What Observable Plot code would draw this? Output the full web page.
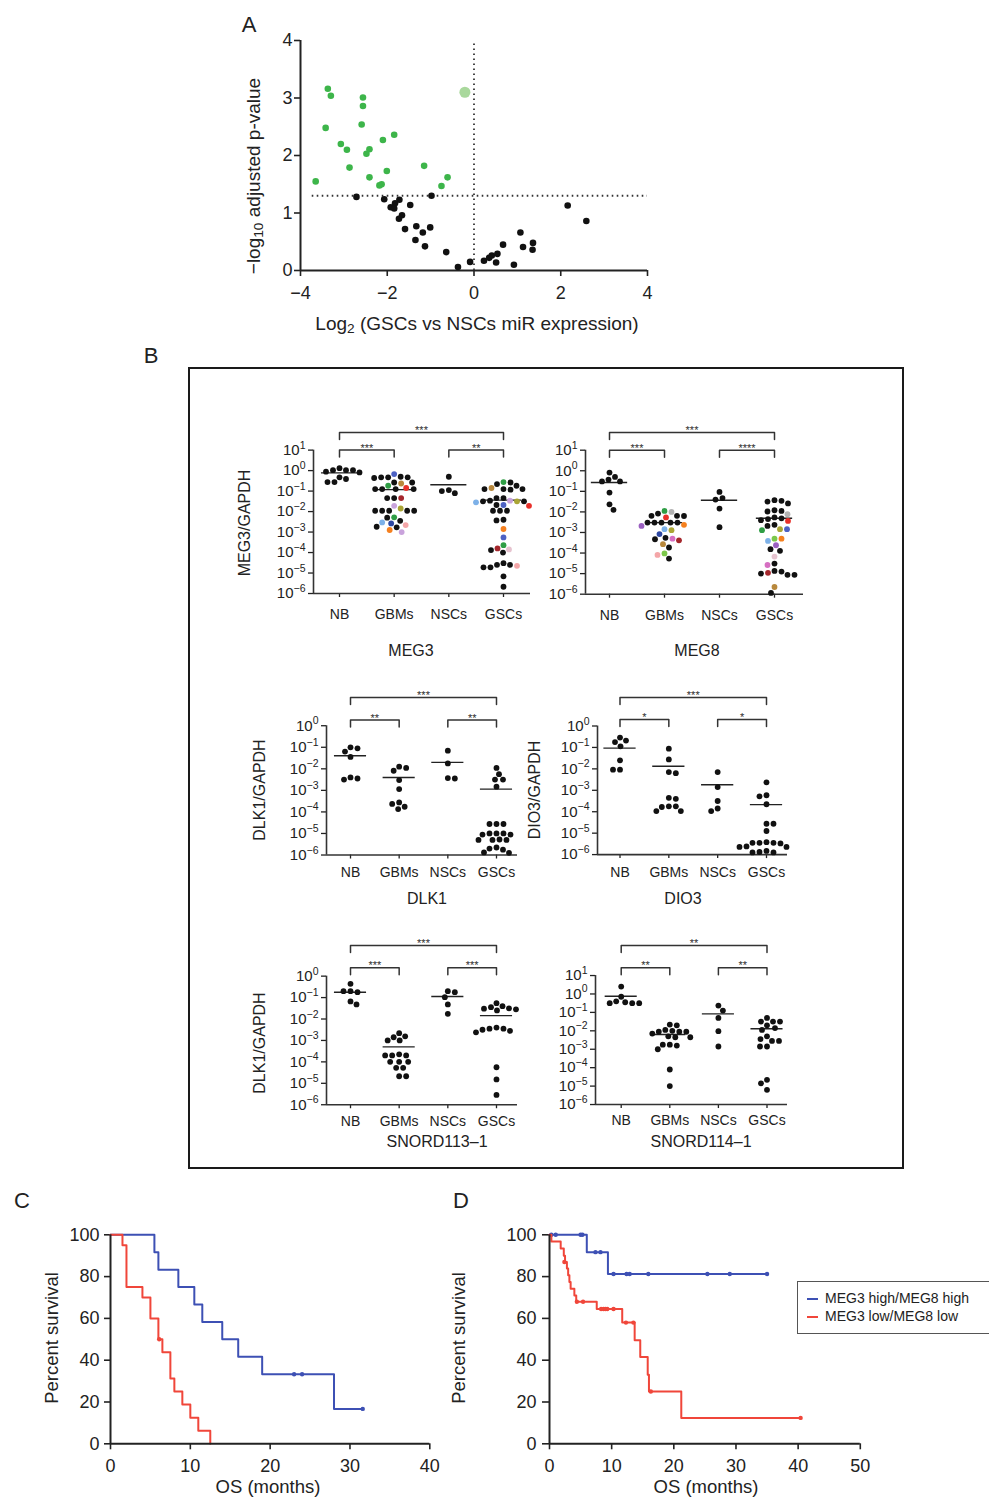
<!DOCTYPE html>
<html><head><meta charset="utf-8">
<script src="https://cdn.jsdelivr.net/npm/d3@7"></script>
<script src="https://cdn.jsdelivr.net/npm/@observablehq/plot@0.6"></script>
<style>
body{margin:0;background:#fff;font-family:"Liberation Sans",Arial,Helvetica,sans-serif;color:#222}
#fig{position:relative;width:989px;height:1499px;overflow:hidden;background:#fff}
.lbl{position:absolute;white-space:nowrap;transform:translate(-50%,-50%);line-height:1}
.rot{transform:translate(-50%,-50%) rotate(-90deg)}
sub{font-size:0.72em;vertical-align:-0.28em;line-height:0}
</style></head><body><div id="fig"></div>
<script>
// ---------------- Panel A data (log2 fold change, -log10 adj p) ----------------
const volcanoGreen = [[-3.37,3.16],[-3.30,3.04],[-2.56,3.01],[-2.56,2.86],[-2.59,2.54],[-3.42,2.48],[-1.84,2.36],[-2.10,2.27],[-3.07,2.20],[-2.93,2.10],[-2.41,2.11],[-2.48,2.03],[-2.87,1.79],[-1.15,1.82],[-2.01,1.73],[-3.65,1.55],[-2.41,1.62],[-2.13,1.50],[-2.18,1.48],[-0.61,1.62],[-0.75,1.47]];
const volcanoHighlight = [[-0.21,3.10]];
const volcanoBlack = [[-2.71,1.28],[-0.98,1.30],[-2.07,1.24],[-1.72,1.23],[-1.82,1.17],[-1.92,1.10],[-1.84,1.08],[-1.47,1.14],[-1.66,0.96],[-1.73,0.90],[-1.59,0.72],[-1.33,0.77],[-1.01,0.75],[-1.18,0.66],[-1.35,0.53],[-1.13,0.42],[-0.64,0.32],[-0.37,0.06],[-0.09,0.15],[0.23,0.17],[0.35,0.22],[0.41,0.26],[0.54,0.29],[0.51,0.14],[0.67,0.45],[0.92,0.10],[1.07,0.66],[1.13,0.41],[1.36,0.48],[1.35,0.36],[2.16,1.13],[2.59,0.86]];
const pThreshold = 1.3;
const volcanoXTicks = [-4,-2,0,2,4];
const volcanoYTicks = [0,1,2,3,4];

// ---------------- Panel B data (log10 expression / GAPDH) ----------------
const groups = ["NB","GBMs","NSCs","GSCs"];
const palette = {k:"#111", blue:"#4d62c4", navy:"#2e48a3", green:"#2f9e45", lime:"#7cc84a", brown:"#b8883c", red:"#e8302a", darkred:"#a4262c", lavender:"#c9a3dc", olive:"#aaa535", lightblue:"#7db1e8", pink:"#f4a6a8", orange:"#f5801f", lightpink:"#e6c3cf", gray:"#b3b3b3", purple:"#9a5fc0", magenta:"#d66fc2"};

const meg3NB = [0.02,0.02,-0.05,-0.09,0.02,0.12,-0.41,-0.56,-0.56,-0.33];
const meg3GBMs = [[-0.17,"blue"],-0.33,-0.33,-0.33,-0.30,-0.36,-0.58,[-0.63,"brown"],-0.58,[-0.74,"green"],-0.9,-0.9,-0.9,-0.9,[-0.85,"red"],-1.34,-1.34,[-1.34,"darkred"],[-1.72,"lavender"],[-1.85,"olive"],-1.96,-1.96,-1.96,-1.96,-1.96,[-2.28,"green"],-2.3,-2.45,[-2.53,"lightblue"],[-2.58,"navy"],[-2.66,"pink"],-2.77,-2.74,[-2.9,"orange"],[-3.0,"lavender"]];
const meg3NSCs = [-0.3,-0.95,-1.1,-1.0];
const meg3GSCs = [-0.58,-0.66,-0.74,[-0.56,"green"],[-0.85,"brown"],-0.9,-0.9,-0.93,-0.9,-1.34,-1.34,[-1.5,"olive"],[-1.47,"lavender"],-1.5,-1.47,-1.5,[-1.68,"blue"],[-1.55,"lightblue"],[-1.72,"red"],-1.68,-1.96,-1.96,-1.96,-2.4,-2.43,[-2.85,"orange"],[-3.26,"blue"],[-3.64,"green"],-3.88,[-3.85,"lightpink"],[-3.8,"darkred"],-4.0,-4.6,[-4.65,"pink"],-4.72,-4.72,-4.6,-4.52,-5.16,-5.67];
const meg3Med = [-0.11,-0.93,-0.69,-1.44];
const meg3Brackets = [[0,3,1.86,"***"],[0,1,1.0,"***"],[2,3,1.0,"**"]];

const meg8NB = [-0.09,-0.3,-0.52,-0.52,-0.43,-1.06,-1.63,-1.9];
const meg8GBMs = [[-2.0,"gray"],[-1.95,"green"],[-2.27,"red"],-2.19,-2.19,-2.08,-2.2,[-2.63,"orange"],-2.52,-2.52,-2.52,-2.52,-2.52,[-2.84,"lightblue"],[-2.89,"olive"],[-2.68,"purple"],[-3.08,"navy"],[-3.3,"magenta"],[-3.38,"darkred"],-3.33,-3.26,[-3.57,"brown"],-3.73,[-4.02,"lime"],[-4.09,"pink"],-4.27];
const meg8NSCs = [-1.03,-1.33,-1.4,-1.84,-2.74];
const meg8GSCs = [-1.43,-1.5,-1.59,-1.46,-1.92,[-2.11,"gray"],-1.95,-1.98,-2.27,[-2.44,"red"],-2.4,-2.31,-2.35,-2.63,[-2.84,"olive"],[-2.89,"green"],[-2.84,"blue"],-2.68,[-3.3,"lime"],[-3.41,"lightblue"],[-3.3,"orange"],-3.81,-3.89,[-3.62,"purple"],[-4.17,"lightpink"],-4.51,[-4.58,"magenta"],-4.9,-5.0,-5.06,-5.06,[-4.96,"darkred"],-4.87,[-5.65,"brown"],-5.94];
const meg8Med = [-0.57,-2.52,-1.43,-2.31];
const meg8Brackets = [[0,3,1.86,"***"],[0,1,1.0,"***"],[2,3,1.0,"****"]];

const dlk1NB = [-1.05,-1.0,-1.2,-1.45,-2.4,-2.5,-2.45];
const dlk1GBMs = [-1.96,-1.9,-2.09,-2.52,-2.94,-3.56,-3.63,-3.87,-3.76];
const dlk1NSCs = [-1.16,-1.75,-2.43,-2.45];
const dlk1GSCs = [-1.96,-2.25,-2.5,-2.5,-2.83,-4.56,-4.56,-4.56,-5.0,-5.05,-5.05,-5.0,-5.0,-5.3,-5.28,-5.3,-5.3,-5.7,-5.75,-5.65,-5.9,-5.88];
const dlk1Med = [-1.39,-2.40,-1.70,-2.94];
const dlk1Brackets = [[0,3,1.31,"***"],[0,1,0.26,"**"],[2,3,0.26,"**"]];

const dio3NB = [-0.54,-0.68,-0.75,-0.95,-1.6,-2.04,-2.04];
const dio3GBMs = [-1.06,-1.56,-2.2,-2.15,-3.35,-3.4,-3.75,-3.78,-3.75,-3.97,-3.97];
const dio3NSCs = [-2.15,-2.85,-3.5,-3.97,-3.85];
const dio3GSCs = [-2.63,-3.23,-3.28,-3.65,-4.56,-4.56,-4.9,-5.42,-5.45,-5.48,-5.45,-5.45,-5.64,-5.64,-5.62,-5.88,-5.9,-5.9,-5.83];
const dio3Med = [-1.03,-1.88,-2.74,-3.67];
const dio3Brackets = [[0,3,1.33,"***"],[0,1,0.30,"*"],[2,3,0.30,"*"]];

const s113NB = [-0.36,-0.7,-0.75,-0.7,-1.18,-1.32];
const s113GBMs = [-2.66,-2.81,-2.85,-3.0,-3.0,-3.65,-3.7,-3.7,-3.7,-4.0,-4.0,-4.0,-4.28,-4.28,-4.67,-4.67];
const s113NSCs = [-0.7,-0.75,-0.98,-1.32,-1.76];
const s113GSCs = [-1.26,-1.45,-1.4,-1.52,-1.55,-1.5,-1.6,-2.4,-2.45,-2.5,-2.55,-2.45,-2.62,-4.25,-4.82,-5.54];
const s113Med = [-0.75,-3.30,-0.95,-1.84];
const s113Brackets = [[0,3,1.43,"***"],[0,1,0.39,"***"],[2,3,0.39,"***"]];

const s114NB = [0.4,-0.15,-0.45,-0.5,-0.5,-0.5,-0.4];
const s114GBMs = [-1.66,-1.7,-1.95,-2.0,-2.05,-2.05,-2.05,-2.15,-2.3,-2.35,-2.35,-2.75,-2.8,-2.75,-3.0,-4.1,-5.0];
const s114NSCs = [-0.63,-0.9,-1.3,-2.02,-2.85];
const s114GSCs = [-1.3,-1.5,-1.5,-1.5,-1.7,-1.85,-1.95,-2.3,-2.45,-2.55,-2.55,-2.85,-2.85,-4.66,-4.85,-5.2];
const s114Med = [-0.12,-2.2,-1.08,-1.89];
const s114Brackets = [[0,3,2.63,"**"],[0,1,1.42,"**"],[2,3,1.42,"**"]];

// ---------------- Panels C, D data (Kaplan–Meier) ----------------
const kmNames = ["MEG3 high/MEG8 high","MEG3 low/MEG8 low"];
const kmColors = ["#3d50b4","#f0463a"];
const cHigh = [[0,100],[5.5,91.7],[6,83.3],[8.5,75],[10.5,66.7],[11.5,58.3],[14,50],[16,41.7],[19,33.3],[28,16.7],[31.6,16.7]];
const cHighCensor = [[23,33.3],[24,33.3],[31.6,16.7]];
const cLow = [[0,100],[1.5,95],[2,75],[4,70],[5,60],[6,50],[6.5,43.75],[7.5,31.25],[8,25],[9,18.75],[10,12.5],[11,6.25],[12.5,0]];
const cLowCensor = [[6.1,50]];
const dHigh = [[0,100],[6,91.7],[9.4,81.25],[35,81.25]];
const dHighCensor = [[0.3,100],[1,100],[5,100],[5.3,100],[7.4,91.7],[8.2,91.7],[10.3,81.25],[12.4,81.25],[12.9,81.25],[15.9,81.25],[25.4,81.25],[29,81.25],[35,81.25]];
const dLow = [[0,100],[0.3,96.8],[1.8,93.5],[2.3,90],[2.5,87],[2.8,83.9],[3.0,80.6],[3.2,77.4],[3.4,74.2],[4.0,71],[4.3,68],[7.6,64.5],[11.7,58],[13.7,49.5],[14.6,41.5],[15.8,33],[16.0,25],[21.2,12.4],[40.4,12.4]];
const dLowCensor = [[2.4,87],[4.4,68],[5.4,68],[8.3,64.5],[8.7,64.5],[9.0,64.5],[9.3,64.5],[10.3,64.5],[12.3,58],[13.5,58],[16.3,25],[40.4,12.4]];

// ---------------- helpers ----------------
const FONT = "'Liberation Sans', Arial, Helvetica, sans-serif";
const INK = "#222";
const fig = document.getElementById("fig");
const numFmt = d => (d < 0 ? "\u2212" : "") + Math.abs(d);
function place(svg, left, top) {
  svg.style.position = "absolute"; svg.style.left = left + "px"; svg.style.top = top + "px";
  svg.style.overflow = "visible"; svg.style.background = "transparent";
  fig.appendChild(svg);
}
function label(html, x, y, size, rot) {
  const d = document.createElement("div");
  d.className = "lbl" + (rot ? " rot" : "");
  d.style.left = x + "px"; d.style.top = y + "px"; d.style.fontSize = size + "px";
  d.innerHTML = html; fig.appendChild(d);
}
function superscripts(svg, size) {
  svg.querySelectorAll("text").forEach(t => {
    const m = /^10\^(.+)$/.exec(t.textContent);
    if (!m) return;
    t.textContent = "10";
    const ts = document.createElementNS("http://www.w3.org/2000/svg", "tspan");
    ts.setAttribute("dy", -size * 0.42);
    ts.setAttribute("font-size", size * 0.7);
    ts.textContent = m[1].replace("-", "\u2212");
    t.appendChild(ts);
  });
}
function swarm(vals, pxDec, r) {
  const d = 2 * r + 0.9;
  const idx = vals.map((_, i) => i).sort((a, b) => vals[b] - vals[a]);
  const placed = [], out = new Array(vals.length);
  idx.forEach((i, n) => {
    const y = -vals[i] * pxDec;
    for (let k = 0; k < 600; k++) {
      const mag = Math.ceil(k / 2) * 0.5;
      const x = (k % 2 === 1 ? 1 : -1) * mag * (n % 2 ? 1 : -1);
      if (placed.every(p => (p[0] - x) ** 2 + (p[1] - y) ** 2 >= d * d)) { placed.push([x, y]); out[i] = x; return; }
    }
    out[i] = 0;
  });
  return out;
}

// ---------------- Panel B frame ----------------
const box = document.createElement("div");
Object.assign(box.style, {position:"absolute", left:"188px", top:"367px", width:"716px", height:"802px", border:"2px solid #1a1a1a", boxSizing:"border-box"});
fig.appendChild(box);

// ---------------- Panel A ----------------
{
  const svg = Plot.plot({
    width: 430, height: 300, marginLeft: 70, marginRight: 13, marginTop: 20, marginBottom: 50,
    style: {fontFamily: FONT, color: INK, background: "transparent", overflow: "visible"},
    x: {domain: [-4, 4], axis: null}, y: {domain: [0, 4], axis: null},
    marks: [
      Plot.axisX({ticks: volcanoXTicks, tickFormat: numFmt, label: null, tickSize: 6, tickPadding: 10, fontSize: 18, strokeWidth: 1.6}),
      Plot.axisY({ticks: volcanoYTicks, tickFormat: numFmt, label: null, tickSize: 6, tickPadding: 2, fontSize: 18, strokeWidth: 1.6}),
      Plot.ruleX([-4], {stroke: INK, strokeWidth: 2}),
      Plot.ruleY([0], {stroke: INK, strokeWidth: 2}),
      Plot.ruleY([pThreshold], {x1: -3.73, x2: 4, stroke: "#333", strokeWidth: 1.8, strokeDasharray: "1.6,3.4"}),
      Plot.ruleX([0], {y1: 0, y2: 4, stroke: "#333", strokeWidth: 1.8, strokeDasharray: "1.6,3.4"}),
      Plot.dot(volcanoBlack, {x: d => d[0], y: d => d[1], r: 3.3, fill: "#111"}),
      Plot.dot(volcanoGreen, {x: d => d[0], y: d => d[1], r: 3.3, fill: "#3db54a"}),
      Plot.dot(volcanoHighlight, {x: d => d[0], y: d => d[1], r: 5.5, fill: "#a9d89c"})
    ]
  });
  place(svg, 230, 20);
}
label("A", 249, 25, 22);
label("\u2212log<sub>10</sub> adjusted p-value", 253, 176, 19, true);
label("Log<sub>2</sub> (GSCs vs NSCs miR expression)", 477, 323, 19);
label("B", 151, 356, 22);

// ---------------- Panel B strips ----------------
const strips = [
  {data:[meg3NB,meg3GBMs,meg3NSCs,meg3GSCs], med:meg3Med, br:meg3Brackets, topExp:1, axisX:313, axisRight:530, axisBottom:592.7, topY:449.3, cat0:339, cat3:503, pad:12},
  {data:[meg8NB,meg8GBMs,meg8NSCs,meg8GSCs], med:meg8Med, br:meg8Brackets, topExp:1, axisX:585, axisRight:803, axisBottom:593.3, topY:449.3, cat0:609, cat3:774, pad:12},
  {data:[dlk1NB,dlk1GBMs,dlk1NSCs,dlk1GSCs], med:dlk1Med, br:dlk1Brackets, topExp:0, axisX:326, axisRight:517, axisBottom:854.3, topY:725, cat0:350, cat3:496, pad:8},
  {data:[dio3NB,dio3GBMs,dio3NSCs,dio3GSCs], med:dio3Med, br:dio3Brackets, topExp:0, axisX:597, axisRight:787, axisBottom:854.3, topY:725.7, cat0:619.5, cat3:766, pad:8},
  {data:[s113NB,s113GBMs,s113NSCs,s113GSCs], med:s113Med, br:s113Brackets, topExp:0, axisX:326, axisRight:517, axisBottom:1104.3, topY:975.7, cat0:350, cat3:496, pad:7},
  {data:[s114NB,s114GBMs,s114NSCs,s114GSCs], med:s114Med, br:s114Brackets, topExp:1, axisX:595, axisRight:787, axisBottom:1104, topY:975, cat0:620.7, cat3:766.5, pad:7}
];
for (const p of strips) {
  const pxDec = (p.axisBottom - p.topY) / (p.topExp + 6);
  const maxBr = Math.max(...p.br.map(b => b[2]));
  const T = p.topY - (maxBr - p.topExp) * pxDec - 24;
  const ml = 64, mr = 10, mb = 36;
  const mt = p.topY - T;
  const H = p.axisBottom - T + mb;
  const W = p.axisRight - p.axisX + ml + mr;
  const sp = (p.cat3 - p.cat0) / 3;
  const xdom = [-(p.cat0 - p.axisX) / sp, 3 + (p.axisRight - p.cat3) / sp];
  const dots = [];
  p.data.forEach((arr, gi) => {
    const vals = arr.map(d => Array.isArray(d) ? d[0] : d);
    const offs = swarm(vals, pxDec, 2.9);
    arr.forEach((d, j) => dots.push({x: gi + offs[j] / sp, y: 10 ** vals[j], c: palette[Array.isArray(d) ? d[1] : "k"]}));
  });
  const drop = 7 / pxDec;
  const brLines = p.br.flatMap((b, k) => [[b[0], b[2] - drop], [b[0], b[2]], [b[1], b[2]], [b[1], b[2] - drop]].map(q => ({x: q[0], y: 10 ** q[1], k})));
  const svg = Plot.plot({
    width: W, height: H, marginLeft: ml, marginRight: mr, marginTop: mt, marginBottom: mb,
    style: {fontFamily: FONT, color: INK, background: "transparent", overflow: "visible"},
    x: {domain: xdom, axis: null},
    y: {type: "log", domain: [1e-6, 10 ** p.topExp], axis: null},
    color: {type: "identity"},
    marks: [
      Plot.axisY({ticks: d3.range(-6, p.topExp + 1).map(e => 10 ** e), tickFormat: d => "10^" + Math.round(Math.log10(d)), label: null, tickSize: 5, tickPadding: 3, fontSize: 15, strokeWidth: 1.3}),
      Plot.axisX({ticks: [0, 1, 2, 3], tickFormat: i => groups[i], label: null, tickSize: 4, tickPadding: p.pad, fontSize: 14, strokeWidth: 1.3}),
      Plot.ruleX([xdom[0]], {y1: 1e-6, y2: 10 ** p.topExp, stroke: "#333", strokeWidth: 1.6}),
      Plot.ruleY([1e-6], {x1: xdom[0], x2: xdom[1], stroke: "#333", strokeWidth: 1.6}),
      Plot.ruleY(p.med, {y: d => 10 ** d, x1: (d, i) => i - 0.33, x2: (d, i) => i + 0.33, stroke: "#222", strokeWidth: 1.4}),
      Plot.dot(dots, {x: "x", y: "y", r: 2.9, fill: "c"}),
      Plot.line(brLines, {x: "x", y: "y", z: "k", stroke: "#333", strokeWidth: 1.5}),
      Plot.text(p.br, {x: b => (b[0] + b[1]) / 2, y: b => 10 ** b[2], text: b => b[3], fontSize: 11, dy: -2, fill: "#333"})
    ]
  });
  superscripts(svg, 15);
  place(svg, p.axisX - ml, T);
}
label("MEG3", 411, 651, 16);
label("MEG8", 697, 651, 16);
label("DLK1", 427, 899, 16);
label("DIO3", 683, 899, 16);
label("SNORD113\u20131", 437, 1142, 16);
label("SNORD114\u20131", 701, 1142, 16);
label("MEG3/GAPDH", 245, 523, 16, true);
label("DLK1/GAPDH", 260, 790, 16, true);
label("DIO3/GAPDH", 535, 790, 16, true);
label("DLK1/GAPDH", 260, 1043, 16, true);

// ---------------- Panels C and D ----------------
function km(left, xmax, curves, tickSize, tickPad) {
  const ml = 70, mr = 20, mt = 20.3, mb = 50;
  const frameW = left.right - left.axisX;
  const svg = Plot.plot({
    width: ml + frameW + mr, height: mt + 209 + mb, marginLeft: ml, marginRight: mr, marginTop: mt, marginBottom: mb,
    style: {fontFamily: FONT, color: INK, background: "transparent", overflow: "visible"},
    x: {domain: [0, xmax], axis: null}, y: {domain: [0, 100], axis: null},
    marks: [
      Plot.axisX({ticks: d3.range(0, xmax + 1, 10), tickFormat: numFmt, label: null, tickSize: 6, tickPadding: 9, fontSize: 18, strokeWidth: 1.6}),
      Plot.axisY({ticks: d3.range(0, 101, 20), tickFormat: numFmt, label: null, tickSize: tickSize, tickPadding: tickPad, fontSize: 18, strokeWidth: 1.6}),
      ...curves.flatMap(c => [
        Plot.line(c.steps, {x: d => d[0], y: d => d[1], curve: "step-after", stroke: c.color, strokeWidth: 2}),
        Plot.dot(c.censor, {x: d => d[0], y: d => d[1], r: 2.2, fill: c.color})
      ]),
      Plot.ruleX([0], {stroke: INK, strokeWidth: 2}),
      Plot.ruleY([0], {stroke: INK, strokeWidth: 2})
    ]
  });
  place(svg, left.axisX - ml, 1234.3 - mt);
}
km({axisX: 110, right: 429.3}, 40, [{steps: cHigh, censor: cHighCensor, color: kmColors[0]}, {steps: cLow, censor: cLowCensor, color: kmColors[1]}], 6, 5);
km({axisX: 548.5, right: 859.3}, 50, [{steps: dHigh, censor: dHighCensor, color: kmColors[0]}, {steps: dLow, censor: dLowCensor, color: kmColors[1]}], 7, 6);
label("C", 22, 1201, 22);
label("D", 461, 1201, 22);
label("Percent survival", 52, 1338, 18.5, true);
label("OS (months)", 268, 1487, 18.5);
label("Percent survival", 459, 1338, 18.5, true);
label("OS (months)", 706, 1487, 18.5);

// legend for D
{
  const lg = document.createElement("div");
  Object.assign(lg.style, {position:"absolute", left:"797px", top:"1281px", width:"220px", height:"53px", border:"1.5px solid #555", boxSizing:"border-box", background:"#fff"});
  kmNames.forEach((n, i) => {
    const ln = document.createElement("div");
    Object.assign(ln.style, {position:"absolute", left:"9px", top:(15.5 + i * 18) + "px", width:"11px", height:"0", borderTop:"2px solid " + kmColors[i]});
    lg.appendChild(ln);
    const tx = document.createElement("div");
    Object.assign(tx.style, {position:"absolute", left:"27px", top:(8 + i * 18) + "px", fontSize:"14px", lineHeight:"16px", whiteSpace:"nowrap", color:"#222"});
    tx.textContent = n;
    lg.appendChild(tx);
  });
  fig.appendChild(lg);
}
</script></body></html>
